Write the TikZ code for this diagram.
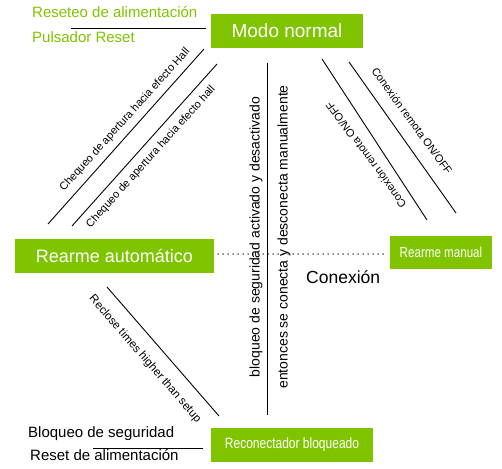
\documentclass[tikz,border=0pt]{standalone}
\usepackage{fontspec}
\setmainfont{Liberation Sans}
\newfontfamily\narrowfont[FakeStretch=0.8]{Liberation Sans}
\usepackage{xcolor}
\definecolor{leaf}{RGB}{128,196,0}

\begin{document}
\begin{tikzpicture}[x=1pt, y=-1pt,
  box/.style={fill=leaf, text=white, inner sep=0pt},
  note/.style={inner sep=0pt, font=\fontsize{11}{13}\selectfont},
  side/.style={inner sep=0pt, font=\fontsize{15}{18}\selectfont},
  sep/.style={line width=0.9pt}]
  \useasboundingbox (0,0) rectangle (502,468);
  % States
  \node[box, minimum width=152, minimum height=34, font=\fontsize{19}{22}\selectfont] (normal) at (287,31) {Modo normal};
  \node[box, minimum width=199, minimum height=34, font=\fontsize{18}{21}\selectfont] (auto) at (114.5,256) {Rearme automático};
  \node[box, minimum width=102, minimum height=33, font=\narrowfont\fontsize{14.5}{17}\selectfont] (manual) at (441,252.5) {Rearme manual};
  \node[box, minimum width=162, minimum height=34, font=\narrowfont\fontsize{15}{18}\selectfont] (locked) at (292,445) {Reconectador bloqueado};
  % Side notes
  \node[side, text=leaf, anchor=base west] (feed) at (32,18) {Reseteo de alimentación};
  \node[side, text=leaf, anchor=base west] (button) at (32,43) {Pulsador Reset};
  \node[side, anchor=base west] (guard) at (28,437) {Bloqueo de seguridad};
  \node[side, anchor=base west] (reset) at (30,460) {Reset de alimentación};
  \node[anchor=base west, inner sep=0pt, font=\fontsize{17.5}{20}\selectfont] (link) at (306,283) {Conexión};
  % Ends of the separators
  \coordinate (t1) at (71,28);   \coordinate (t2) at (206,28);
  \coordinate (b1) at (93,448);  \coordinate (b2) at (203,448);
  \coordinate (h1) at (48,224);  \coordinate (h2) at (204,49);
  \coordinate (k1) at (72,226);  \coordinate (k2) at (217,64);
  \coordinate (r1) at (322,59);  \coordinate (r2) at (427,220);
  \coordinate (s1) at (349,62);  \coordinate (s2) at (456,213);
  \coordinate (c1) at (107,287); \coordinate (c2) at (219,416);
  \coordinate (v1) at (267,63);  \coordinate (v2) at (267,415);
  \coordinate (d1) at (218,254); \coordinate (d2) at (383,254);
  % Separators
  \foreach \a/\b in {t1/t2, b1/b2, h1/h2, k1/k2, r1/r2, s1/s2, c1/c2, v1/v2}
      \draw[sep] (\a) -- (\b);
  \draw[line width=1.5pt, line cap=round, dash pattern=on 0pt off 5pt] (d1) -- (d2);
  % Transition labels
  \node[note, rotate=48] (hall) at (125,120) {Chequeo de apertura hacia efecto Hall};
  \node[note, rotate=48] (hall2) at (151,157) {Chequeo de apertura hacia efecto hall};
  \node[note, rotate=-54] (remote) at (412,121) {Conexión remota ON/OFF};
  \node[note, rotate=126] (remote2) at (366,155) {Conexión remota ON/OFF};
  \node[note, rotate=-49, font=\fontsize{11.5}{13}\selectfont] (reclose) at (145,359) {Reclose times higher than setup};
  \node[inner sep=0pt, rotate=90, font=\fontsize{14}{16}\selectfont] (lock) at (256,237) {bloqueo de seguridad activado y desactivado};
  \node[inner sep=0pt, rotate=90, font=\fontsize{14}{16}\selectfont] (hand) at (284,237) {entonces se conecta y desconecta manualmente};
\end{tikzpicture}
\end{document}
